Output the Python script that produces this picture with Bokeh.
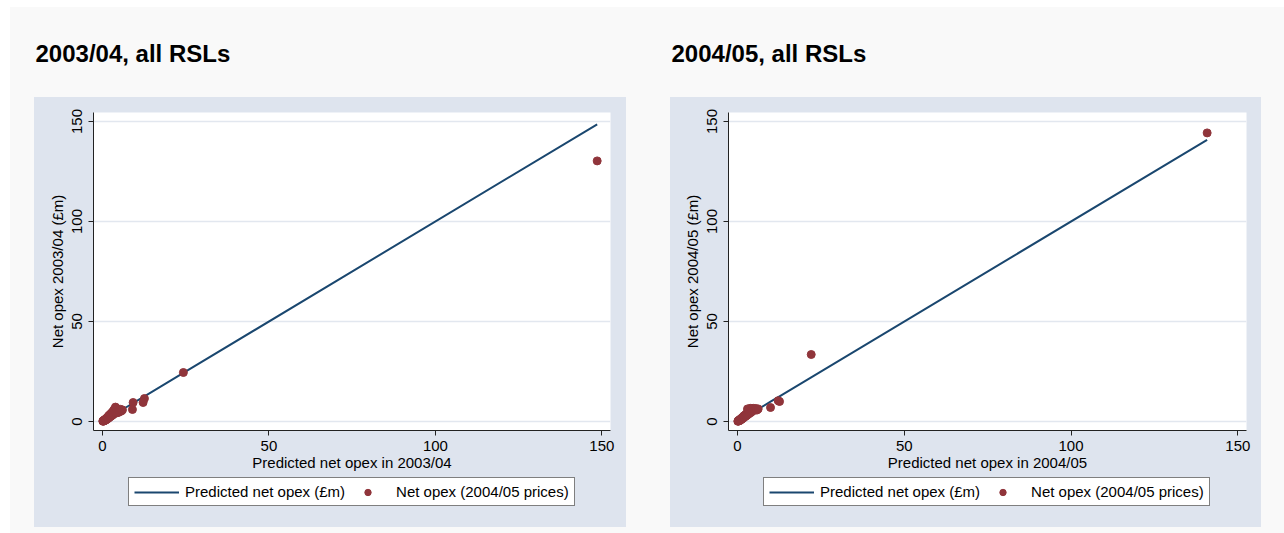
from bokeh.plotting import figure
from bokeh.models import Range1d, FixedTicker, Legend, LegendItem, Label, Spacer
from bokeh.layouts import row, column
from bokeh.embed import file_html
from bokeh.resources import INLINE

# ---------------- data ----------------
titles = ["2003/04, all RSLs", "2004/05, all RSLs"]
x_labels = ["Predicted net opex in 2003/04", "Predicted net opex in 2004/05"]
y_labels = ["Net opex 2003/04 (£m)", "Net opex 2004/05 (£m)"]
legend_line = "Predicted net opex (£m)"
legend_dot = "Net opex (2004/05 prices)"
ticks = [0, 50, 100, 150]

pred_0304 = [0.1, 0.2, 0.3, 0.4, 0.5, 0.6, 0.7, 0.8, 0.9, 1.0, 1.1, 1.2, 1.3, 1.4,
             1.5, 1.6, 1.7, 1.8, 1.9, 2.0, 2.1, 2.2, 2.4, 2.5, 2.6, 2.7, 2.9, 3.0,
             3.1, 3.2, 3.4, 3.5, 3.6, 3.8, 3.9, 4.0, 4.2, 4.3, 4.5, 4.6, 4.8, 5.0,
             5.2, 5.4, 5.7, 6.0, 9.2, 9.0, 12.6, 12.2, 24.3, 148.6]
actual_0304 = [0.2, 0.1, 0.5, 0.3, 0.7, 0.4, 0.9, 0.6, 1.2, 0.8, 1.4, 1.0, 1.8, 1.2,
               2.1, 1.5, 2.5, 1.7, 2.9, 2.0, 3.3, 2.3, 3.6, 2.6, 4.1, 2.9, 4.5, 3.2,
               5.0, 3.5, 5.6, 3.9, 6.2, 4.3, 7.2, 4.6, 6.6, 5.0, 6.0, 4.4, 5.4, 5.8,
               4.9, 6.1, 5.3, 5.8, 9.5, 6.0, 11.5, 9.5, 24.5, 130.3]

pred_0405 = [0.1, 0.2, 0.3, 0.4, 0.5, 0.6, 0.7, 0.8, 0.9, 1.0, 1.1, 1.2, 1.3, 1.4,
             1.5, 1.6, 1.7, 1.8, 1.9, 2.0, 2.1, 2.3, 2.4, 2.5, 2.6, 2.8, 2.9, 3.0,
             3.1, 3.2, 3.4, 3.5, 3.7, 3.8, 3.9, 4.1, 4.2, 4.4, 4.5, 4.7, 4.9, 5.2,
             5.5, 5.8, 6.2, 9.9, 12.6, 12.2, 22.1, 140.8]
actual_0405 = [0.1, 0.3, 0.2, 0.6, 0.4, 0.8, 0.5, 1.1, 0.8, 1.3, 1.0, 1.6, 1.2, 1.9,
               1.5, 2.2, 1.7, 2.6, 2.0, 2.9, 2.3, 3.2, 2.6, 3.6, 2.9, 4.0, 3.2, 6.3,
               4.4, 3.6, 4.8, 4.0, 5.3, 6.6, 4.4, 5.8, 4.8, 6.2, 5.2, 6.6, 5.6, 6.1,
               6.5, 5.7, 6.3, 7.0, 10.0, 10.4, 33.5, 144.3]

# ---------------- style ----------------
FONT = "Liberation Sans"
PAGE_GREY = "#f9f9f9"
REGION = "#dee4ee"
GRID = "#e2e7ef"
NAVY = "#1a476f"
MAROON = "#90353b"


def draw_series(p, pred, actual):
    order = sorted(range(len(pred)), key=lambda i: pred[i])
    line_x = [pred[i] for i in order]
    ln = p.line(line_x, line_x, line_color=NAVY, line_width=2)
    sc = p.scatter(pred, actual, size=8, fill_color=MAROON, line_color=MAROON)
    return ln, sc


def make_panel(pred, actual, xlab, ylab, width, left, right):
    p = figure(width=width, height=380,
               x_range=Range1d(-2.7, 152.6), y_range=Range1d(-4.5, 154.5),
               output_backend="svg", toolbar_location=None,
               min_border_left=left, min_border_right=right,
               min_border_top=15, min_border_bottom=47,
               styles={"background-color": REGION})
    p.background_fill_color = "white"
    p.border_fill_color = REGION
    p.outline_line_color = None

    draw_series(p, pred, actual)

    for ax in (p.xaxis[0], p.yaxis[0]):
        ax.ticker = FixedTicker(ticks=ticks)
        ax.major_tick_out = 5
        ax.major_tick_in = 0
        ax.minor_tick_line_color = None
        ax.axis_line_color = "#222222"
        ax.major_tick_line_color = "#222222"
        ax.major_label_text_font = FONT
        ax.major_label_text_font_size = "15px"
        ax.major_label_text_color = "black"
        ax.axis_label_text_font = FONT
        ax.axis_label_text_font_size = "15px"
        ax.axis_label_text_font_style = "normal"
        ax.axis_label_text_color = "black"
    p.xaxis.axis_label = xlab
    p.yaxis.axis_label = ylab
    p.xaxis.major_label_standoff = 5
    p.xaxis.axis_label_standoff = 0
    p.yaxis.major_label_orientation = "vertical"
    p.yaxis.major_label_standoff = 7
    p.yaxis.axis_label_standoff = 3

    p.xgrid.visible = False
    p.ygrid.grid_line_color = GRID
    p.ygrid.grid_line_width = 1.5

    # legend strip below the plot, in the same graph-region colour
    lf = figure(width=width, height=50, x_range=Range1d(-1000, -999), y_range=Range1d(-1000, -999),
                output_backend="svg", toolbar_location=None,
                x_axis_type=None, y_axis_type=None, min_border=0,
                styles={"background-color": REGION})
    lf.background_fill_color = REGION
    lf.border_fill_color = REGION
    lf.outline_line_color = None
    ln, sc = draw_series(lf, pred, actual)
    legend = Legend(items=[LegendItem(label=legend_line, renderers=[ln]),
                           LegendItem(label=legend_dot, renderers=[sc])],
                    orientation="horizontal", location=(35, 21),
                    border_line_color="black", border_line_width=1,
                    background_fill_color="white", background_fill_alpha=1.0,
                    glyph_width=45, glyph_height=16, label_height=16,
                    label_standoff=6, spacing=0, padding=5, margin=0,
                    label_text_font=FONT, label_text_font_size="15px",
                    label_text_color="black")
    lf.add_layout(legend, "center")
    return column(p, lf)


f1 = make_panel(pred_0304, actual_0304, x_labels[0], y_labels[0], 592, 59, 16)
f2 = make_panel(pred_0405, actual_0405, x_labels[1], y_labels[1], 591, 58, 15)

title_fig = figure(width=1274, height=90, x_range=Range1d(0, 1274), y_range=Range1d(0, 90),
                   output_backend="svg", toolbar_location=None,
                   x_axis_type=None, y_axis_type=None, min_border=0)
title_fig.background_fill_color = PAGE_GREY
title_fig.border_fill_color = PAGE_GREY
title_fig.outline_line_color = None
for tx, t in zip([25, 661], titles):
    title_fig.add_layout(Label(x=tx, y=44, x_units="screen", y_units="screen", text=t,
                               text_font=FONT, text_font_size="24px",
                               text_font_style="bold", text_color="black",
                               text_baseline="alphabetic"))

layout = column(title_fig,
                row(Spacer(width=24, height=430), f1, Spacer(width=44, height=430), f2,
                    Spacer(width=23, height=430)),
                Spacer(width=1274, height=6),
                styles={"background-color": PAGE_GREY}, margin=(7, 0, 0, 10))

open("out.html", "w").write(file_html(layout, INLINE))
